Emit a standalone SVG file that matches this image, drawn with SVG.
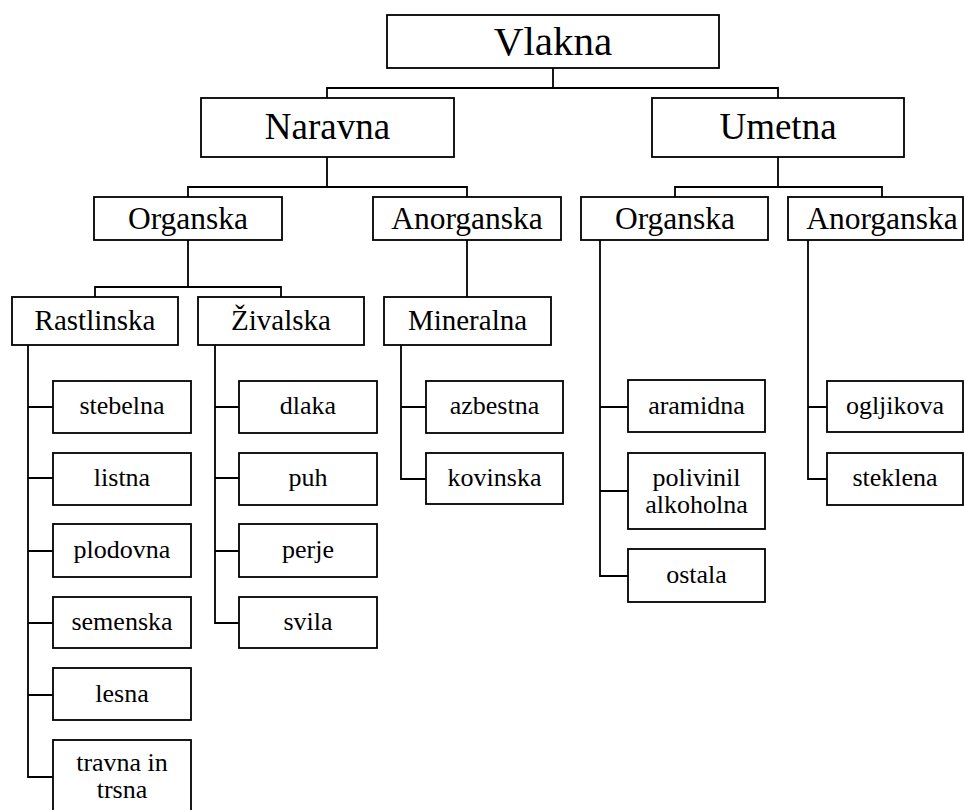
<svg xmlns="http://www.w3.org/2000/svg" width="964" height="810" viewBox="0 0 964 810">
<style>
rect{fill:#fff;stroke:#000;stroke-width:1.8}
text{font-family:"Liberation Serif","Times New Roman",serif;fill:#000;text-anchor:middle}
.l0{font-size:41px}.l1{font-size:37px}.l2{font-size:31.5px}.l3{font-size:29px}.lf{font-size:26px}
#connectors path{fill:none;stroke:#000;stroke-width:1.8}
</style>
<rect x="0" y="0" width="964" height="810" style="stroke:none"/>
<g id="connectors">
<path d="M553 68V88M327 98V88H778V98"/>
<path d="M327 157V187M188 197V187H467V197"/>
<path d="M778 157V187M675 197V187H882V197"/>
<path d="M188 240V287M95 297V287H281V297"/>
<path d="M467 240V297"/>
<path d="M28 345V777H53M28 407H53M28 478H53M28 551H53M28 623H53M28 695H53"/>
<path d="M215 345V623H239M215 407H239M215 478H239M215 551H239"/>
<path d="M401 345V479H426M401 407H426"/>
<path d="M600 240V576H628M600 407H628M600 491H628"/>
<path d="M808 240V479H827M808 407H827"/>
</g>
<g id="vlakna"><rect x="387" y="15" width="332" height="53"/><text class="l0" x="553" y="55">Vlakna</text></g>
<g id="naravna"><rect x="201" y="98" width="253" height="59"/><text class="l1" x="327.5" y="139">Naravna</text></g>
<g id="umetna"><rect x="652" y="98" width="252" height="59"/><text class="l1" x="778" y="139">Umetna</text></g>
<g id="nar-organska"><rect x="94" y="197" width="188" height="43"/><text class="l2" x="188" y="229">Organska</text></g>
<g id="nar-anorganska"><rect x="373" y="197" width="188" height="43"/><text class="l2" x="467" y="229">Anorganska</text></g>
<g id="ume-organska"><rect x="581" y="197" width="187" height="43"/><text class="l2" x="675" y="229">Organska</text></g>
<g id="ume-anorganska"><rect x="788" y="197" width="175" height="43"/><text class="l2" x="882" y="229">Anorganska</text></g>
<g id="rastlinska"><rect x="12" y="297" width="166" height="48"/><text class="l3" x="95" y="330">Rastlinska</text></g>
<g id="zivalska"><rect x="198" y="297" width="166" height="48"/><text class="l3" x="281" y="330">Živalska</text></g>
<g id="mineralna"><rect x="384" y="297" width="167" height="48"/><text class="l3" x="467.5" y="330">Mineralna</text></g>
<g id="stebelna"><rect x="53" y="381" width="138" height="52"/><text class="lf" x="122" y="414">stebelna</text></g>
<g id="listna"><rect x="53" y="453" width="138" height="52"/><text class="lf" x="122" y="486">listna</text></g>
<g id="plodovna"><rect x="53" y="524" width="138" height="53"/><text class="lf" x="122" y="558">plodovna</text></g>
<g id="semenska"><rect x="53" y="597" width="138" height="51"/><text class="lf" x="122" y="630">semenska</text></g>
<g id="lesna"><rect x="53" y="668" width="138" height="52"/><text class="lf" x="122" y="702">lesna</text></g>
<g id="travna"><rect x="53" y="740" width="138" height="76"/><text class="lf" x="122" y="771">travna in</text><text class="lf" x="122" y="798">trsna</text></g>
<g id="dlaka"><rect x="239" y="381" width="138" height="52"/><text class="lf" x="308" y="414">dlaka</text></g>
<g id="puh"><rect x="239" y="453" width="138" height="52"/><text class="lf" x="308" y="486">puh</text></g>
<g id="perje"><rect x="239" y="524" width="138" height="53"/><text class="lf" x="308" y="558">perje</text></g>
<g id="svila"><rect x="239" y="597" width="138" height="51"/><text class="lf" x="308" y="630">svila</text></g>
<g id="azbestna"><rect x="426" y="381" width="137" height="52"/><text class="lf" x="494.5" y="414">azbestna</text></g>
<g id="kovinska"><rect x="426" y="453" width="137" height="51"/><text class="lf" x="494.5" y="486">kovinska</text></g>
<g id="aramidna"><rect x="628" y="380" width="137" height="52"/><text class="lf" x="696.5" y="414">aramidna</text></g>
<g id="polivinil"><rect x="628" y="453" width="137" height="76"/><text class="lf" x="696.5" y="486">polivinil</text><text class="lf" x="696.5" y="513">alkoholna</text></g>
<g id="ostala"><rect x="628" y="549" width="137" height="53"/><text class="lf" x="696.5" y="583">ostala</text></g>
<g id="ogljikova"><rect x="827" y="381" width="136" height="51"/><text class="lf" x="895" y="414">ogljikova</text></g>
<g id="steklena"><rect x="827" y="453" width="136" height="52"/><text class="lf" x="895" y="486">steklena</text></g>
</svg>
